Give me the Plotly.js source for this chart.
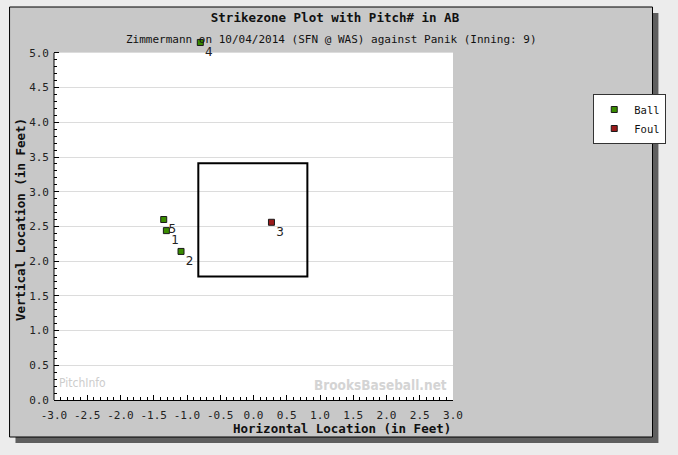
<!DOCTYPE html>
<html>
<head>
<meta charset="utf-8">
<script src="https://cdn.plot.ly/plotly-3.0.1.min.js"></script>
<style>html,body{margin:0;padding:0;background:#ececec;}#chart{width:678px;height:455px;}</style>
</head>
<body>
<div id="chart"></div>
<script>
// ---- data ----
const pitchNumbers = [1, 2, 3, 4, 5];
const pitchResults = ['Ball', 'Ball', 'Foul', 'Ball', 'Ball'];
const pitchX = [-1.31, -1.09, 0.27, -0.80, -1.35];
const pitchY = [2.44, 2.14, 2.56, 5.15, 2.60];
const resultTypes = ['Ball', 'Foul'];
const resultColors = {Ball: '#3a8c00', Foul: '#9b1b1b'};
const zoneX = [-0.83, 0.81];
const zoneY = [1.78, 3.41];
const xTickVals = [-3, -2.5, -2, -1.5, -1, -0.5, 0, 0.5, 1, 1.5, 2, 2.5, 3];
const xTickLabels = ['-3.0','-2.5','-2.0','-1.5','-1.0','-0.5','0.0','0.5','1.0','1.5','2.0','2.5','3.0'];
const yTickVals = [0, 0.5, 1, 1.5, 2, 2.5, 3, 3.5, 4, 4.5, 5];
const yTickLabels = ['0.0','0.5','1.0','1.5','2.0','2.5','3.0','3.5','4.0','4.5','5.0'];
const yFieldTop = 5;      // top of the drawn field (feet)
const yAxisTop = 5.2;     // axis extends so pitches above the field still show
const chartTitle = 'Strikezone Plot with Pitch# in AB';
const chartSubtitle = 'Zimmermann on 10/04/2014 (SFN @ WAS) against Panik (Inning: 9)';

// ---- layout helpers (pixel -> paper) ----
const W = 678, H = 455;
const M = {l: 54, r: 220, t: 39, b: 55};
const PW = W - M.l - M.r, PH = H - M.t - M.b;
const px = v => (v - M.l) / PW;
const py = v => (H - M.b - v) / PH;

const mono = 'DejaVu Sans Mono, monospace';

// minor tick positions every 0.1 ft inside the field only
const yMinor = [];
for (let k = 0; k <= 50; k++) if (k % 5) yMinor.push(k / 10);

const traces = resultTypes.map(r => {
  const idx = pitchResults.map((v, i) => v === r ? i : -1).filter(i => i >= 0);
  return {
    type: 'scatter',
    mode: 'markers+text',
    name: r,
    x: idx.map(i => pitchX[i]),
    y: idx.map(i => pitchY[i]),
    text: idx.map(i => String(pitchNumbers[i])),
    textposition: 'bottom right',
    textfont: {family: 'DejaVu Sans, sans-serif', size: 12, color: '#222'},
    cliponaxis: false,
    marker: {symbol: 'square', size: 6, color: resultColors[r], line: {color: '#1a1a1a', width: 1}},
    hoverinfo: 'x+y+name'
  };
});

const layout = {
  width: W, height: H,
  margin: M,
  paper_bgcolor: '#ececec',
  plot_bgcolor: 'rgba(0,0,0,0)',
  showlegend: true,
  title: {
    text: '<b>' + chartTitle + '</b>',
    font: {family: mono, size: 12.5, color: '#111'},
    xref: 'container', x: 335 / W, xanchor: 'center',
    yref: 'container', y: 1 - 18 / H, yanchor: 'middle'
  },
  xaxis: {
    range: [-3, 3], autorange: false,
    tickmode: 'array', tickvals: xTickVals, ticktext: xTickLabels,
    ticks: 'inside', ticklen: 5, tickcolor: '#000', tickwidth: 1,
    minor: {tickmode: 'linear', tick0: 0, dtick: 0.1, ticks: 'inside', ticklen: 3, tickcolor: '#000', showgrid: false},
    showgrid: false, zeroline: false,
    showline: true, linecolor: '#000', linewidth: 1, mirror: false,
    tickfont: {family: mono, size: 11, color: '#222'},
    ticklabelstandoff: 5
  },
  yaxis: {
    range: [0, yAxisTop], autorange: false,
    tickmode: 'array', tickvals: yTickVals, ticktext: yTickLabels,
    ticks: 'inside', ticklen: 5, tickcolor: '#000', tickwidth: 1,
    minor: {tickmode: 'array', tickvals: yMinor, ticks: 'inside', ticklen: 3, tickcolor: '#000', showgrid: false},
    showgrid: true, gridcolor: '#dcdcdc', gridwidth: 1, zeroline: false,
    showline: false,
    tickfont: {family: mono, size: 11, color: '#222'},
    ticklabelstandoff: 4,
    title: {text: '<b>Vertical Location (in Feet)</b>', font: {family: mono, size: 12.5, color: '#111'}, standoff: 0}
  },
  legend: {
    x: px(600), y: py(94), xanchor: 'left', yanchor: 'top',
    bgcolor: '#ffffff', bordercolor: '#333', borderwidth: 1,
    font: {family: mono, size: 10.5, color: '#111'},
    itemwidth: 30, tracegroupgap: 0
  },
  shapes: [
    {type: 'rect', xref: 'paper', yref: 'paper', x0: px(15), x1: px(666), y0: py(443), y1: py(13),
     fillcolor: '#5f5f5f', line: {width: 0}, layer: 'below'},
    {type: 'rect', xref: 'paper', yref: 'paper', x0: px(9), x1: px(660), y0: py(437), y1: py(7),
     fillcolor: '#c8c8c8', line: {color: '#000', width: 1}, layer: 'below'},
    {type: 'rect', xref: 'paper', yref: 'y', x0: 0, x1: 1, y0: 0, y1: yFieldTop,
     fillcolor: '#ffffff', line: {width: 0}, layer: 'below'},
    {type: 'line', xref: 'paper', yref: 'y', x0: 0, x1: 0, y0: 0, y1: yFieldTop,
     line: {color: '#000', width: 1}, layer: 'above'},
    {type: 'rect', xref: 'x', yref: 'y', x0: zoneX[0], x1: zoneX[1], y0: zoneY[0], y1: zoneY[1],
     fillcolor: 'rgba(0,0,0,0)', line: {color: '#000', width: 2}, layer: 'above'}
  ],
  annotations: [
    {text: chartSubtitle, xref: 'paper', yref: 'paper', x: px(335), y: py(40), xanchor: 'center', yanchor: 'middle',
     showarrow: false, font: {family: mono, size: 11, color: '#111'}},
    {text: '<b>Horizontal Location (in Feet)</b>', xref: 'paper', yref: 'paper', x: px(458), y: py(428),
     xanchor: 'right', yanchor: 'middle', showarrow: false, font: {family: mono, size: 12.5, color: '#111'}},
    {text: 'PitchInfo', xref: 'paper', yref: 'paper', x: px(57), y: py(383), xanchor: 'left', yanchor: 'middle',
     showarrow: false, font: {family: 'DejaVu Sans Condensed, sans-serif', size: 12, color: '#cdcdcd'}},
    {text: '<b>BrooksBaseball.net</b>', xref: 'paper', yref: 'paper', x: px(454), y: py(385), xanchor: 'right', yanchor: 'middle',
     showarrow: false, font: {family: 'DejaVu Sans Condensed, sans-serif', size: 13.5, color: '#d4d4d4'}}
  ]
};

Plotly.newPlot('chart', traces, layout, {displayModeBar: false, responsive: false});
</script>
</body>
</html>
